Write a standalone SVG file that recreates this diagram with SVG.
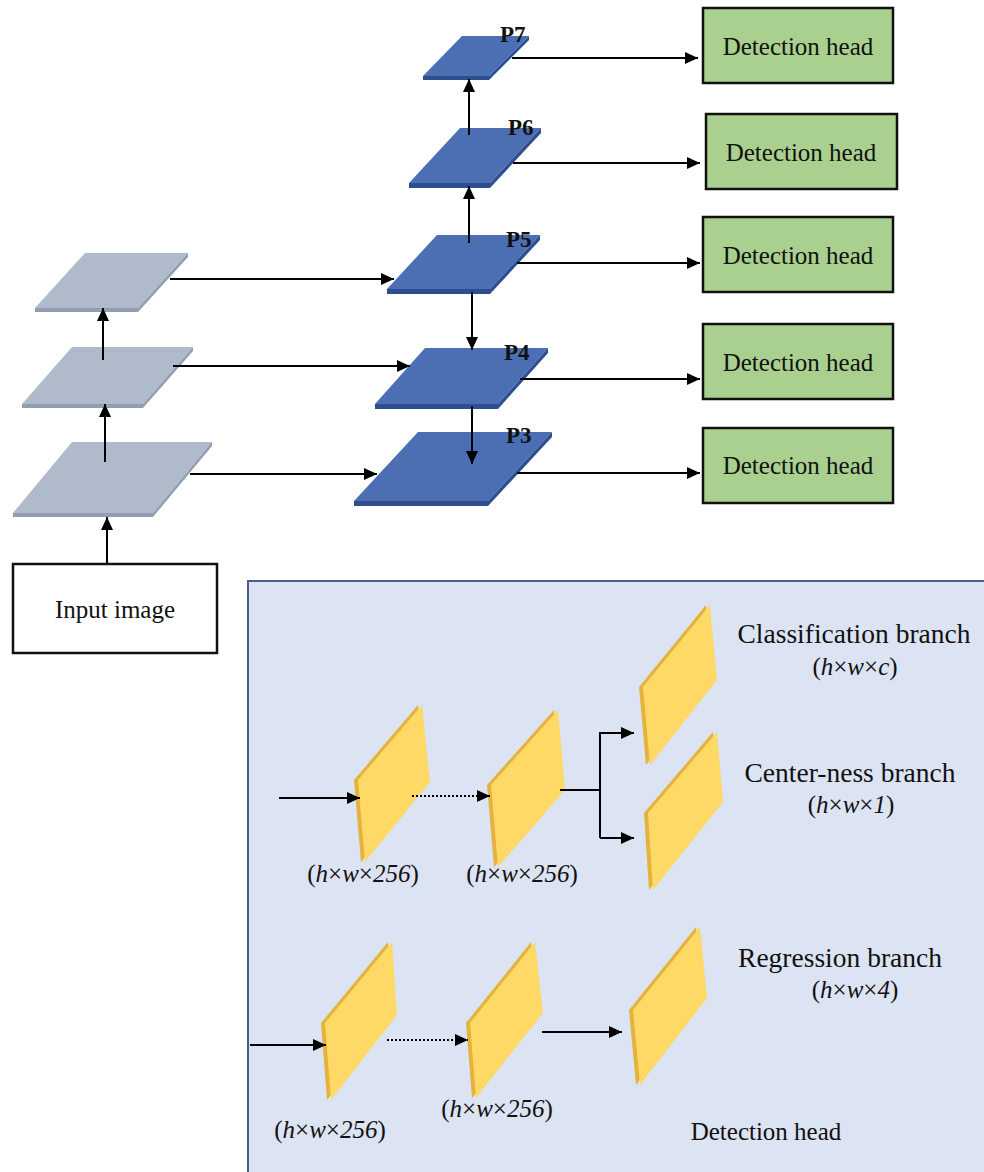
<svg xmlns="http://www.w3.org/2000/svg" width="984" height="1172" viewBox="0 0 984 1172" font-family="'Liberation Serif', 'Times New Roman', serif">
<defs>
<marker id="ah" markerUnits="userSpaceOnUse" markerWidth="15" markerHeight="13" refX="13" refY="6" orient="auto">
<path d="M0,0 L13,6 L0,12 z" fill="#000"/>
</marker>
</defs>
<style>
text{font-family:"Liberation Serif","Times New Roman",serif;fill:#111}
.pl{font-weight:bold;font-size:23px}
.dh{font-size:25px;text-anchor:middle}
.br{font-size:27.5px;text-anchor:middle}
.dim{font-size:25px;text-anchor:middle}
.it{font-style:italic}
.bf{fill:#4c6fb4}
.be{fill:#2e4f8f}
.gf{fill:#afbbcb}
.ge{fill:#919eb1}
.yf{fill:#ffd966}
.ye{fill:#e3b33e}
.box{fill:#a9d08e;stroke:#111;stroke-width:2.5}
.ln{stroke:#000;stroke-width:2;fill:none}
.arr{stroke:#000;stroke-width:2;fill:none;marker-end:url(#ah)}
.dot{stroke-dasharray:2 2}
</style>
<rect width="984" height="1172" fill="#fff"/>

<!-- Lower panel -->
<g id="panel">
<rect x="248" y="581" width="745" height="600" fill="#dce3f2" stroke="#4d5f8a" stroke-width="2"/>
</g>

<!-- Gray backbone plates -->
<g id="g3">
<polygon class="gf" points="85,253 188,253 138,308 35,308"/>
<polygon class="ge" points="35,308 138,308 138,312 35,312"/>
<polygon class="ge" points="138,308 188,253 188,257 138,312"/>
</g>
<g id="g2">
<polygon class="gf" points="72,347 193,347 143,404 22,404"/>
<polygon class="ge" points="22,404 143,404 143,408 22,408"/>
<polygon class="ge" points="143,404 193,347 193,351 143,408"/>
</g>
<g id="g1">
<polygon class="gf" points="72,442 212,442 153,513 13,513"/>
<polygon class="ge" points="13,513 153,513 153,517 13,517"/>
<polygon class="ge" points="153,513 212,442 212,446 153,517"/>
</g>

<!-- Blue FPN plates -->
<g id="p7">
<polygon class="bf" points="462,36 529,36 489,76 423,76"/>
<polygon class="be" points="423,76 489,76 489,80 423,80"/>
<polygon class="be" points="489,76 529,36 529,40 489,80"/>
<text class="pl" x="500" y="42">P7</text>
</g>
<g id="p6">
<polygon class="bf" points="460,128 541,128 490,183 409,183"/>
<polygon class="be" points="409,183 490,183 490,188 409,188"/>
<polygon class="be" points="490,183 541,128 541,133 490,188"/>
<text class="pl" x="508" y="135">P6</text>
</g>
<g id="p5">
<polygon class="bf" points="437,235 540,235 490,289 387,289"/>
<polygon class="be" points="387,289 490,289 490,294 387,294"/>
<polygon class="be" points="490,289 540,235 540,240 490,294"/>
<text class="pl" x="506" y="247">P5</text>
</g>
<g id="p4">
<polygon class="bf" points="425,348 548,348 498,404 375,404"/>
<polygon class="be" points="375,404 498,404 498,409 375,409"/>
<polygon class="be" points="498,404 548,348 548,353 498,409"/>
<text class="pl" x="504" y="360">P4</text>
</g>
<g id="p3">
<polygon class="bf" points="418,432 552,432 488,501 354,501"/>
<polygon class="be" points="354,501 488,501 488,506 354,506"/>
<polygon class="be" points="488,501 552,432 552,437 488,506"/>
<text class="pl" x="506" y="443">P3</text>
</g>

<!-- Detection heads -->
<g id="dh1"><rect class="box" x="703" y="8" width="190" height="75"/><text class="dh" x="798" y="55">Detection head</text></g>
<g id="dh2"><rect class="box" x="706" y="114" width="191" height="75"/><text class="dh" x="801" y="161">Detection head</text></g>
<g id="dh3"><rect class="box" x="703" y="217" width="190" height="75"/><text class="dh" x="798" y="264">Detection head</text></g>
<g id="dh4"><rect class="box" x="703" y="324" width="190" height="75"/><text class="dh" x="798" y="371">Detection head</text></g>
<g id="dh5"><rect class="box" x="703" y="428" width="190" height="75"/><text class="dh" x="798" y="474">Detection head</text></g>

<!-- Input -->
<g id="input">
<rect x="13" y="564" width="204" height="89" fill="#fff" stroke="#111" stroke-width="2.5"/>
<text class="dh" x="115" y="618">Input image</text>
</g>

<!-- Yellow feature maps -->
<g id="fa"><polygon class="ye" points="354,780 418,705 426,782 361,862"/><polygon class="yf" points="358,780 422,705 430,782 365,862"/></g>
<g id="fb"><polygon class="ye" points="487,785 554,710 561,790 494,867"/><polygon class="yf" points="491,785 558,710 565,790 498,867"/></g>
<g id="fc"><polygon class="ye" points="639,687 706,605 713,680 646,765"/><polygon class="yf" points="643,687 710,605 717,680 650,765"/></g>
<g id="fd"><polygon class="ye" points="644,813 713,732 719,802 649,890"/><polygon class="yf" points="648,813 717,732 723,802 653,890"/></g>
<g id="fe"><polygon class="ye" points="321,1023 388,942 393,1015 327,1100"/><polygon class="yf" points="325,1023 392,942 397,1015 331,1100"/></g>
<g id="ff"><polygon class="ye" points="466,1023 531,942 539,1013 472,1098"/><polygon class="yf" points="470,1023 535,942 543,1013 476,1098"/></g>
<g id="fg"><polygon class="ye" points="629,1010 696,927 703,998 636,1085"/><polygon class="yf" points="633,1010 700,927 707,998 640,1085"/></g>

<!-- Panel labels -->
<g id="labels">
<text class="br" x="854" y="643">Classification branch</text>
<text class="dim" x="855" y="675">(<tspan class="it">h</tspan>×<tspan class="it">w</tspan>×<tspan class="it">c</tspan>)</text>
<text class="br" x="850" y="782">Center-ness branch</text>
<text class="dim" x="851" y="813">(<tspan class="it">h</tspan>×<tspan class="it">w</tspan>×<tspan class="it">1</tspan>)</text>
<text class="br" x="840" y="967">Regression branch</text>
<text class="dim" x="855" y="998">(<tspan class="it">h</tspan>×<tspan class="it">w</tspan>×<tspan class="it">4</tspan>)</text>
<text class="dim" x="363" y="882">(<tspan class="it">h</tspan>×<tspan class="it">w</tspan>×<tspan class="it">256</tspan>)</text>
<text class="dim" x="522" y="882">(<tspan class="it">h</tspan>×<tspan class="it">w</tspan>×<tspan class="it">256</tspan>)</text>
<text class="dim" x="330" y="1138">(<tspan class="it">h</tspan>×<tspan class="it">w</tspan>×<tspan class="it">256</tspan>)</text>
<text class="dim" x="497" y="1117">(<tspan class="it">h</tspan>×<tspan class="it">w</tspan>×<tspan class="it">256</tspan>)</text>
<text class="dh" x="766" y="1140">Detection head</text>
</g>

<!-- Connectors -->
<g id="connectors">
<line class="arr" x1="190" y1="474" x2="377" y2="474"/>
<line class="arr" x1="173" y1="366" x2="410" y2="366"/>
<line class="arr" x1="170" y1="279" x2="394" y2="279"/>
<line class="arr" x1="517" y1="473" x2="700" y2="473"/>
<line class="arr" x1="520" y1="379" x2="700" y2="379"/>
<line class="arr" x1="517" y1="263" x2="700" y2="263"/>
<line class="arr" x1="513" y1="163" x2="700" y2="163"/>
<line class="arr" x1="512" y1="58" x2="698" y2="58"/>
<line class="arr" x1="107" y1="564" x2="107" y2="517"/>
<line class="arr" x1="105" y1="462" x2="105" y2="404"/>
<line class="arr" x1="103" y1="360" x2="103" y2="308"/>
<line class="arr" x1="469" y1="243" x2="469" y2="186"/>
<line class="arr" x1="469" y1="135" x2="469" y2="79"/>
<line class="arr" x1="472" y1="292" x2="472" y2="350"/>
<line class="arr" x1="472" y1="406" x2="472" y2="464"/>
<line class="arr" x1="279" y1="798" x2="360" y2="798"/>
<line class="arr dot" x1="412" y1="796" x2="490" y2="796"/>
<line class="ln" x1="560" y1="790" x2="600" y2="790"/>
<polyline class="ln" points="633,733 600,733 600,838"/>
<line class="arr" x1="600" y1="733" x2="634" y2="733"/>
<line class="arr" x1="600" y1="838" x2="634" y2="838"/>
<line class="arr" x1="250" y1="1045" x2="326" y2="1045"/>
<line class="arr dot" x1="387" y1="1040" x2="468" y2="1040"/>
<line class="arr" x1="542" y1="1032" x2="622" y2="1032"/>
</g>
</svg>
